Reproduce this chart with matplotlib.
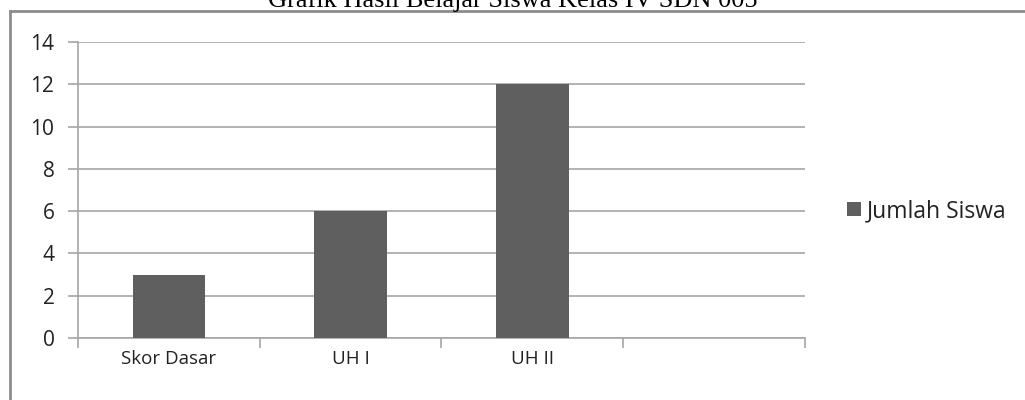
import matplotlib
matplotlib.use("Agg")
import matplotlib.pyplot as plt
from matplotlib.lines import Line2D

# nilai grafik
kategori = ["Skor Dasar", "UH I", "UH II", ""]
jumlah_siswa = [3, 6, 12]
y_ticks = [0, 2, 4, 6, 8, 10, 12, 14]

judul = "Grafik Hasil Belajar Siswa Kelas IV SDN 005"
nama_seri = "Jumlah Siswa"

W, H = 1025, 400
fig = plt.figure(figsize=(W / 100, H / 100), dpi=100)
fig.patch.set_facecolor("white")

ax = fig.add_axes([78 / W, 1 - 338 / H, (805 - 78) / W, (338 - 42) / H])

pos = list(range(len(kategori)))
ax.bar(pos[:len(jumlah_siswa)], jumlah_siswa, width=0.4, color="#5f5f5f",
       label=nama_seri, zorder=3)

ax.set_xlim(-0.5, len(kategori) - 0.5)
ax.set_ylim(0, 14)
ax.set_yticks(y_ticks)
ax.set_yticklabels([str(v) for v in y_ticks], fontsize=15, family="Open Sans",
                   color="#222222")
ax.yaxis.grid(True, color="#a6a6a6", linewidth=1.2, zorder=0)

ax.set_xticks(pos)
ax.set_xticklabels(kategori, fontsize=13.5, family="Open Sans", color="#222222")
ax.tick_params(axis="x", which="major", length=0, pad=9)
ax.set_xticks([p - 0.5 for p in pos] + [len(kategori) - 0.5], minor=True)
ax.tick_params(axis="x", which="minor", length=7, color="#a6a6a6", width=1.2)
ax.tick_params(axis="y", length=7, color="#a6a6a6", width=1.2, pad=10)

for s in ["top", "right"]:
    ax.spines[s].set_visible(False)
for s in ["left", "bottom"]:
    ax.spines[s].set_color("#a6a6a6")
    ax.spines[s].set_linewidth(1.2)

leg = ax.legend(loc="center left", bbox_to_anchor=(847 / W, 1 - 211 / H),
                bbox_transform=fig.transFigure, frameon=False,
                prop={"family": "Open Sans", "size": 16.5},
                handlelength=0.6, handleheight=0.6, handletextpad=0.25,
                borderpad=0, borderaxespad=0)
for t in leg.get_texts():
    t.set_color("#222222")

# bingkai grafik
fig.add_artist(Line2D([10 / W, 1], [1 - 11 / H, 1 - 11 / H],
                      transform=fig.transFigure, color="#8c8c8c", linewidth=2))
fig.add_artist(Line2D([10 / W, 10 / W], [0, 1 - 11 / H],
                      transform=fig.transFigure, color="#8c8c8c", linewidth=2))

fig.text(0.5, 1 - 7 / H, judul, ha="center", va="baseline",
         family="Liberation Serif", fontsize=19, color="black")

fig.savefig("out.png", dpi=100)
